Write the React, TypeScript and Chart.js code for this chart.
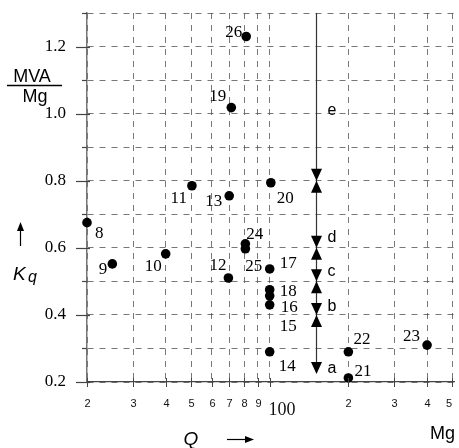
import { useEffect, useRef } from 'react';
import { Chart, registerables } from 'chart.js';

Chart.register(...registerables);

// ---- data ----
const pointIds = ['8', '9', '10', '11', '12', '13', '14', '16', '17', '18', '18b', '19', '20', '21', '22', '23', '24', '25', '26'];
const qValues = [20, 25, 40, 50.4, 69.5, 70, 100, 100, 100, 100, 100, 71.3, 101, 200, 200, 400, 80.7, 80.7, 81.3];
const kqValues = [0.675, 0.552, 0.582, 0.785, 0.51, 0.755, 0.29, 0.43, 0.537, 0.475, 0.457, 1.018, 0.794, 0.212, 0.29, 0.31, 0.612, 0.597, 1.23];

// free-standing label (no marker)
const freeLabelText = ['15'];
const freeLabelQ = [100];
const freeLabelKq = [0.365];

// range arrow
const arrowQ = 150;
const arrowTopKq = 1.3;
const downTipsKq = [0.8, 0.6, 0.5, 0.4, 0.224];
const upTipsKq = [0.8, 0.6, 0.5, 0.4];
const rangeLetters = ['e', 'd', 'c', 'b', 'a'];
const rangeLetterKq = [1.01, 0.63, 0.528, 0.424, 0.24];

// axes
const xMin = 20;
const xMax = 508;
const yMin = 0.2;
const yMax = 1.3;
const xTicks = [20, 30, 40, 50, 60, 70, 80, 90, 100, 200, 300, 400, 500];
const xTickLabels = ['2', '3', '4', '5', '6', '7', '8', '9', '100', '2', '3', '4', '5'];
const yTickLabels = ['0.2', '0.4', '0.6', '0.8', '1.0', '1.2'];

const SANS = '"Liberation Sans", Arial, sans-serif';
const SERIF = '"Liberation Serif", "Times New Roman", serif';

// label placement (pixel offsets from marker, text alignment)
const labelPlacement: Record<string, [number, number, CanvasTextAlign]> = {
  '8': [8, 11, 'left'],
  '9': [-5, 6, 'right'],
  '10': [-4, 13, 'right'],
  '11': [-5, 13, 'right'],
  '12': [-2, -12, 'right'],
  '13': [-7, 6, 'right'],
  '14': [9, 15, 'left'],
  '16': [11, 3, 'left'],
  '17': [10, -5, 'left'],
  '18': [10, 2, 'left'],
  '19': [-5, -11, 'right'],
  '20': [6, 16, 'left'],
  '21': [6, -6, 'left'],
  '22': [5, -12, 'left'],
  '23': [-7, -9, 'right'],
  '24': [1, -9, 'left'],
  '25': [0, 18, 'left'],
  '26': [-4, -4, 'right'],
};

const annotate = {
  id: 'annotate',
  afterDraw(chart: any) {
    const { ctx, scales, chartArea, width } = chart;
    const x = scales.x;
    const y = scales.y;
    ctx.save();

    // y tick marks
    ctx.strokeStyle = '#444';
    ctx.lineWidth = 1.2;
    y.ticks.forEach((t: any) => {
      const py = Math.round(y.getPixelForValue(t.value)) + 0.5;
      const major = Math.round(t.value * 10) % 2 === 0;
      ctx.beginPath();
      ctx.moveTo(major ? chartArea.left - 11 : chartArea.left - 5, py);
      ctx.lineTo(major ? chartArea.left + 3 : chartArea.left, py);
      ctx.stroke();
    });
    // y tick labels
    ctx.fillStyle = '#000';
    ctx.font = `17px ${SERIF}`;
    ctx.textAlign = 'right';
    ctx.textBaseline = 'middle';
    yTickLabels.forEach((l) => {
      ctx.fillText(l, chartArea.left - 21, y.getPixelForValue(Number(l)));
    });

    // x tick marks + labels
    ctx.strokeStyle = '#444';
    ctx.lineWidth = 1;
    xTicks.forEach((v, i) => {
      const px = Math.round(x.getPixelForValue(v)) + 0.5;
      ctx.beginPath();
      ctx.moveTo(px, chartArea.bottom - 4);
      ctx.lineTo(px, chartArea.bottom + 5);
      ctx.stroke();
      const lab = xTickLabels[i];
      ctx.fillStyle = '#111';
      ctx.textBaseline = 'middle';
      if (lab === '100') {
        ctx.font = `18px ${SERIF}`;
        ctx.textAlign = 'left';
        ctx.fillText(lab, px - 2, chartArea.bottom + 28);
      } else {
        ctx.font = `11px ${SANS}`;
        ctx.textAlign = 'center';
        ctx.fillText(lab, Math.min(px, width - 10), chartArea.bottom + 22);
      }
    });

    // range arrow
    const ax = Math.round(x.getPixelForValue(arrowQ)) + 0.5;
    const triW = 5.5;
    const triH = 12;
    ctx.strokeStyle = '#333';
    ctx.lineWidth = 1.2;
    ctx.beginPath();
    ctx.moveTo(ax, y.getPixelForValue(arrowTopKq));
    ctx.lineTo(ax, y.getPixelForValue(downTipsKq[downTipsKq.length - 1]) - triH + 1);
    ctx.stroke();
    ctx.fillStyle = '#000';
    downTipsKq.forEach((k) => {
      const py = y.getPixelForValue(k);
      ctx.beginPath();
      ctx.moveTo(ax, py);
      ctx.lineTo(ax - triW, py - triH);
      ctx.lineTo(ax + triW, py - triH);
      ctx.closePath();
      ctx.fill();
    });
    upTipsKq.forEach((k) => {
      const py = y.getPixelForValue(k);
      ctx.beginPath();
      ctx.moveTo(ax, py);
      ctx.lineTo(ax - triW, py + triH);
      ctx.lineTo(ax + triW, py + triH);
      ctx.closePath();
      ctx.fill();
    });
    ctx.font = `16px ${SANS}`;
    ctx.textAlign = 'left';
    ctx.textBaseline = 'middle';
    rangeLetters.forEach((l, i) => {
      ctx.fillText(l, ax + 11, y.getPixelForValue(rangeLetterKq[i]));
    });

    // point labels
    ctx.font = `17px ${SERIF}`;
    ctx.fillStyle = '#000';
    pointIds.forEach((id, i) => {
      const pl = labelPlacement[id];
      if (!pl) return;
      const px = x.getPixelForValue(qValues[i]);
      const py = y.getPixelForValue(kqValues[i]);
      ctx.textAlign = pl[2];
      ctx.fillText(id, px + pl[0], py + pl[1]);
    });
    freeLabelText.forEach((t, i) => {
      ctx.textAlign = 'left';
      ctx.fillText(t, x.getPixelForValue(freeLabelQ[i]) + 10, y.getPixelForValue(freeLabelKq[i]));
    });

    // y unit: MVA / Mg
    ctx.font = `18px ${SANS}`;
    ctx.textAlign = 'center';
    ctx.textBaseline = 'alphabetic';
    ctx.fillText('MVA', 32, 82);
    ctx.fillText('Mg', 35, 102);
    ctx.strokeStyle = '#000';
    ctx.lineWidth = 1.5;
    ctx.beginPath();
    ctx.moveTo(7, 85.5);
    ctx.lineTo(62, 85.5);
    ctx.stroke();

    // y axis symbol K_q with up arrow
    ctx.lineWidth = 1.2;
    ctx.beginPath();
    ctx.moveTo(20.5, 246);
    ctx.lineTo(20.5, 229);
    ctx.stroke();
    ctx.beginPath();
    ctx.moveTo(20.5, 222);
    ctx.lineTo(17, 231);
    ctx.lineTo(24, 231);
    ctx.closePath();
    ctx.fill();
    ctx.textAlign = 'left';
    ctx.font = `italic 19px ${SANS}`;
    ctx.fillText('K', 13, 280);
    ctx.font = `italic 16px ${SANS}`;
    ctx.fillText('q', 28, 282);

    // x axis symbol Q with right arrow, unit Mg
    ctx.font = `italic 19px ${SANS}`;
    ctx.textAlign = 'center';
    ctx.fillText('Q', 191, 445);
    ctx.beginPath();
    ctx.moveTo(227, 439.5);
    ctx.lineTo(246, 439.5);
    ctx.stroke();
    ctx.beginPath();
    ctx.moveTo(254, 439.5);
    ctx.lineTo(245, 436);
    ctx.lineTo(245, 443);
    ctx.closePath();
    ctx.fill();
    ctx.font = `18px ${SANS}`;
    ctx.textAlign = 'left';
    ctx.fillText('Mg', 430, 439);

    ctx.restore();
  },
};

export default function App() {
  const ref = useRef<HTMLCanvasElement | null>(null);

  useEffect(() => {
    if (!ref.current) return;
    const data = qValues.map((q, i) => ({ x: q, y: kqValues[i] }));
    const chart = new Chart(ref.current, {
      type: 'scatter',
      data: {
        datasets: [
          {
            data,
            pointRadius: 4.8,
            pointHoverRadius: 4.8,
            backgroundColor: '#000',
            borderWidth: 0,
            clip: false as any,
          },
        ],
      },
      options: {
        animation: false,
        responsive: false,
        maintainAspectRatio: false,
        devicePixelRatio: 1,
        layout: { padding: { top: 13, right: 1, left: 0, bottom: 0 } },
        plugins: { legend: { display: false }, tooltip: { enabled: false } },
        events: [],
        scales: {
          x: {
            type: 'logarithmic',
            min: xMin,
            max: xMax,
            afterBuildTicks: (s: any) => {
              s.ticks = xTicks.map((v) => ({ value: v }));
            },
            afterFit: (s: any) => {
              s.height = 66;
            },
            ticks: { display: false },
            grid: { color: '#555', lineWidth: 0.8, drawTicks: false },
            border: { display: true, color: '#444', width: 1.2, dash: [6, 6] },
          },
          y: {
            type: 'linear',
            min: yMin,
            max: yMax,
            afterFit: (s: any) => {
              s.width = 87;
            },
            ticks: { display: false, stepSize: 0.1 },
            grid: { color: '#555', lineWidth: 0.8, drawTicks: false },
            border: { display: true, color: '#777', width: 1.5, dash: [6, 6] },
          },
        },
      },
      plugins: [annotate],
    });
    return () => chart.destroy();
  }, []);

  return (
    <div style={{ position: 'fixed', left: 0, top: 0, width: 459, height: 448, background: '#fff' }}>
      <canvas ref={ref} width={459} height={448} />
    </div>
  );
}
